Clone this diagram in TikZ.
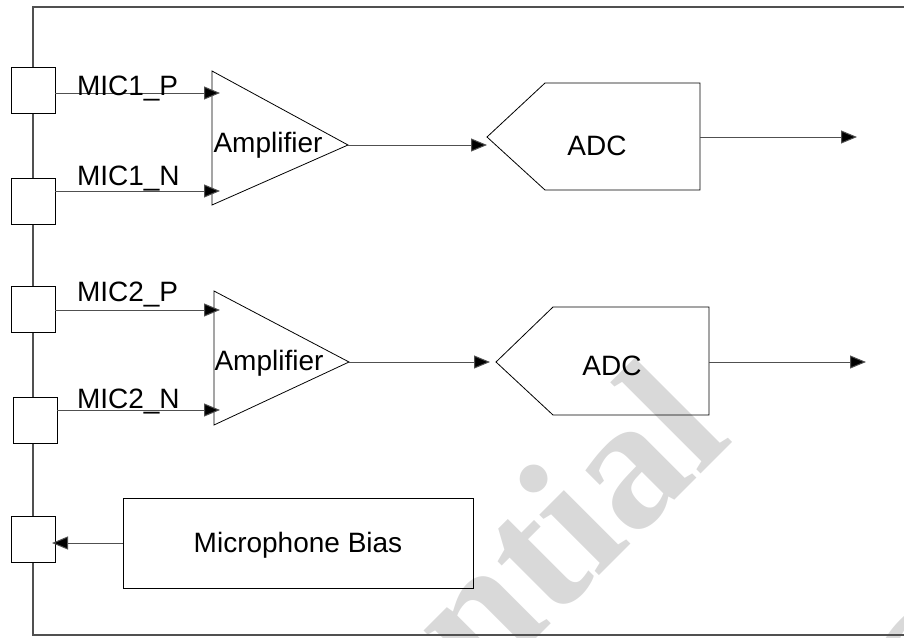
\documentclass[tikz,border=0pt]{standalone}
\usepackage{fontspec}
\setmainfont{Liberation Sans}
\newfontfamily\wmfont{Liberation Serif}
\usetikzlibrary{arrows.meta}
\definecolor{wmgray}{RGB}{217,217,217}
\definecolor{linegray}{RGB}{80,80,80}
\begin{document}
\begin{tikzpicture}[x=1pt,y=-1pt,
  every node/.style={inner sep=0pt, outer sep=0pt},
  lbl/.style={font=\fontsize{28}{28}\selectfont, anchor=base},
  lblw/.style={font=\fontsize{28}{28}\selectfont, anchor=base west},
  pad/.style={draw=black, fill=white, line width=0.8pt, minimum width=44pt, minimum height=46pt},
  shp/.style={draw=black, line width=0.8pt},
  conn/.style={draw=linegray, line width=1pt, -{Triangle[length=16pt,width=13pt,fill=black]}},
  frame/.style={draw=linegray, line width=1.5pt},
  wm/.style={text=wmgray, font=\wmfont\bfseries\fontsize{185}{185}\selectfont, rotate=45}
]
\useasboundingbox (0,0) rectangle (904,637);
% watermark
\begin{scope}
\clip (0,0) rectangle (904,637);
\node[wm, anchor=base east] (wm1) at (735,440) {Confidential};
\node[wm, anchor=base west] (wm2) at (935,758) {Confidential};
\end{scope}
% frame
\coordinate (ftr) at (904,7);
\coordinate (ftl) at (33,7);
\coordinate (fbl) at (33,635);
\coordinate (fbr) at (904,635);
\draw[frame] (ftr) -- (ftl) -- (fbl) -- (fbr);
% pads
\node[pad] (pad1) at (33,90) {};
\node[pad] (pad2) at (33,201.5) {};
\node[pad] (pad3) at (33,309.5) {};
\node[pad] (pad4) at (35,420.5) {};
\node[pad] (pad5) at (33,539.5) {};
% amplifier 1
\coordinate (amp1tl) at (212,71);
\coordinate (amp1bl) at (212,205);
\coordinate (amp1o) at (348,145);
\draw[shp] (amp1tl) -- (amp1o) -- (amp1bl) -- cycle;
\node[lbl] (amp1lbl) at (268,152) {Amplifier};
% amplifier 2
\coordinate (amp2tl) at (214,291);
\coordinate (amp2bl) at (214,425);
\coordinate (amp2o) at (349,362);
\draw[shp] (amp2tl) -- (amp2o) -- (amp2bl) -- cycle;
\node[lbl] (amp2lbl) at (269,370) {Amplifier};
% ADC 1
\coordinate (adc1tip) at (487,137);
\coordinate (adc1a) at (545,83);
\coordinate (adc1b) at (700,83);
\coordinate (adc1c) at (700,190);
\coordinate (adc1d) at (545,190);
\draw[shp] (adc1tip) -- (adc1a) -- (adc1b) -- (adc1c) -- (adc1d) -- cycle;
\node[lbl] (adc1lbl) at (597,155) {ADC};
% ADC 2
\coordinate (adc2tip) at (496,362);
\coordinate (adc2a) at (553,307);
\coordinate (adc2b) at (709,307);
\coordinate (adc2c) at (709,415);
\coordinate (adc2d) at (553,415);
\draw[shp] (adc2tip) -- (adc2a) -- (adc2b) -- (adc2c) -- (adc2d) -- cycle;
\node[lbl] (adc2lbl) at (612,375) {ADC};
% bias
\node[shp, minimum width=350pt, minimum height=90pt] (bias) at (298,543) {};
\node[lbl] (biaslbl) at (298,552) {Microphone Bias};
% input connectors
\coordinate (in1p) at (220,93);
\coordinate (in1n) at (220,191);
\coordinate (in2p) at (220,310);
\coordinate (in2n) at (220,410);
\draw[conn] (pad1.east |- in1p) -- (in1p);
\draw[conn] (pad2.east |- in1n) -- (in1n);
\draw[conn] (pad3.east |- in2p) -- (in2p);
\draw[conn] (pad4.east |- in2n) -- (in2n);
\node[lblw] (l1p) at (77,95) {MIC1\_P};
\node[lblw] (l1n) at (77,185) {MIC1\_N};
\node[lblw] (l2p) at (77,301) {MIC2\_P};
\node[lblw] (l2n) at (77,408) {MIC2\_N};
% amp to adc
\coordinate (adc1in) at (487,145);
\coordinate (adc2in) at (490,362);
\draw[conn] (amp1o) -- (adc1in);
\draw[conn] (amp2o) -- (adc2in);
% outputs
\coordinate (out1) at (857,137);
\coordinate (out2) at (866,362);
\draw[conn] (adc1b |- adc1tip) -- (out1);
\draw[conn] (adc2b |- adc2tip) -- (out2);
% bias to pad
\coordinate (pad5in) at (52,543);
\draw[conn] (bias.west) -- (pad5in);
\end{tikzpicture}
\end{document}
